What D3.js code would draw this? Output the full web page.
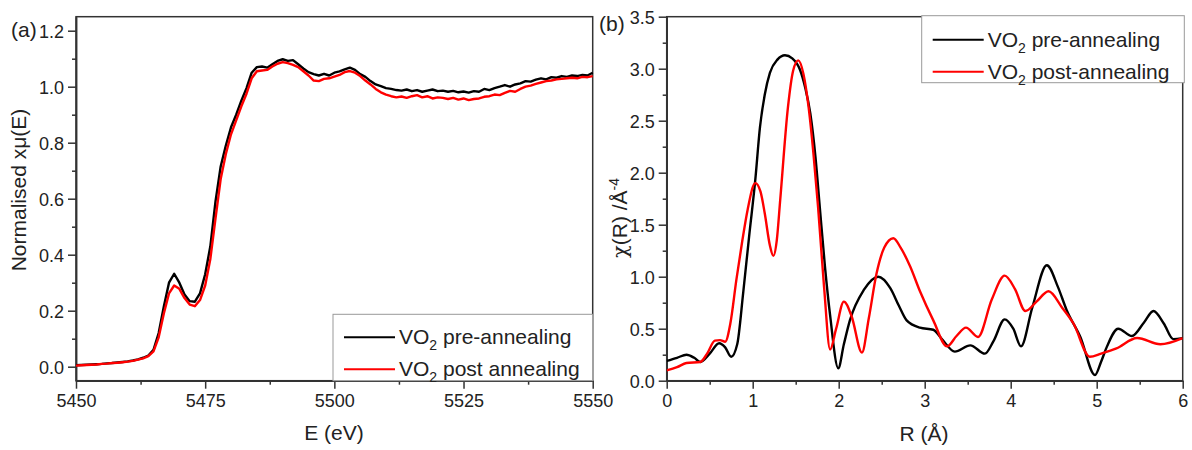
<!DOCTYPE html>
<html>
<head>
<meta charset="utf-8">
<script src="https://cdnjs.cloudflare.com/ajax/libs/d3/7.8.5/d3.min.js"></script>
<style>
  body { margin: 0; background: #fff; }
  text { font-family: "Liberation Sans", Arial, sans-serif; fill: #222; }
  .domain { stroke: #333; stroke-width: 1.5; }
  .tick line { stroke: #333; stroke-width: 1.5; }
</style>
</head>
<body>
<div id="container"></div>
<script>
// (a) XANES, 1 eV steps from 5450 to 5550
const energy = d3.range(5450, 5551, 1);
const muPre = [
  0.005,0.006,0.007,0.008,0.009,0.010,0.012,0.013,0.015,0.017,
  0.019,0.022,0.026,0.032,0.040,0.060,0.120,0.215,0.300,0.332,
  0.300,0.258,0.234,0.232,0.262,0.330,0.430,0.590,0.715,0.790,
  0.855,0.900,0.950,0.995,1.050,1.070,1.072,1.068,1.080,1.092,
  1.098,1.092,1.095,1.080,1.065,1.052,1.045,1.040,1.046,1.040,
  1.050,1.055,1.062,1.068,1.060,1.045,1.035,1.020,1.008,1.002,
  0.995,0.992,0.988,0.986,0.990,0.984,0.988,0.982,0.986,0.990,
  0.984,0.986,0.982,0.985,0.980,0.983,0.979,0.984,0.982,0.992,
  0.988,0.995,1.000,1.006,1.000,1.008,1.012,1.020,1.018,1.025,
  1.030,1.026,1.034,1.032,1.038,1.035,1.040,1.038,1.042,1.040,
  1.050];
const muPost = [
  0.004,0.005,0.006,0.007,0.008,0.010,0.011,0.013,0.014,0.016,
  0.018,0.021,0.025,0.030,0.038,0.055,0.105,0.190,0.262,0.290,
  0.278,0.245,0.222,0.216,0.238,0.290,0.385,0.530,0.670,0.760,
  0.830,0.880,0.930,0.975,1.030,1.055,1.058,1.060,1.072,1.082,
  1.088,1.084,1.078,1.070,1.055,1.040,1.022,1.020,1.028,1.030,
  1.036,1.042,1.052,1.056,1.050,1.038,1.022,1.008,0.992,0.980,
  0.972,0.966,0.962,0.965,0.960,0.966,0.970,0.962,0.966,0.958,
  0.962,0.960,0.956,0.960,0.954,0.958,0.952,0.956,0.958,0.964,
  0.966,0.972,0.970,0.978,0.985,0.982,0.992,1.000,1.004,1.010,
  1.015,1.020,1.022,1.026,1.028,1.030,1.032,1.030,1.035,1.034,
  1.038];

// (b) Fourier transform magnitude
const rPre = [0,0.12,0.23,0.32,0.39,0.5,0.61,0.68,0.75,0.82,0.89,0.96,1.03,1.085,1.14,1.2,1.29,1.375,1.46,1.55,1.61,1.67,1.73,1.78,1.84,1.9,1.995,2.06,2.13,2.29,2.46,2.6,2.7,2.79,2.945,3.1,3.2,3.35,3.53,3.7,3.8,3.93,4.03,4.12,4.25,4.42,4.55,4.65,4.81,4.98,5.05,5.12,5.25,5.41,5.55,5.66,5.78,5.89,6.0];
const chiPre = [0.19,0.22,0.25,0.22,0.18,0.26,0.36,0.32,0.23,0.35,0.85,1.40,1.93,2.44,2.75,2.96,3.09,3.13,3.10,2.99,2.82,2.57,2.15,1.67,1.10,0.63,0.12,0.35,0.58,0.87,1.00,0.89,0.72,0.58,0.51,0.49,0.40,0.28,0.34,0.26,0.38,0.59,0.50,0.33,0.70,1.11,0.90,0.68,0.42,0.055,0.18,0.33,0.50,0.43,0.56,0.67,0.55,0.40,0.41];
const rPost = [0,0.12,0.23,0.39,0.47,0.56,0.62,0.68,0.74,0.81,0.88,0.94,1.03,1.09,1.14,1.2,1.24,1.28,1.32,1.41,1.47,1.53,1.59,1.65,1.71,1.76,1.83,1.9,1.97,2.06,2.15,2.27,2.35,2.44,2.53,2.635,2.72,2.83,2.945,3.1,3.26,3.37,3.48,3.62,3.78,3.93,4.05,4.17,4.3,4.44,4.6,4.73,4.92,5.05,5.23,5.47,5.74,6.0];
const chiPost = [0.10,0.13,0.17,0.18,0.26,0.385,0.39,0.375,0.55,0.97,1.35,1.64,1.90,1.82,1.61,1.30,1.20,1.35,1.74,2.63,2.98,3.08,2.95,2.63,2.15,1.67,0.90,0.30,0.50,0.76,0.62,0.27,0.60,1.03,1.28,1.37,1.28,1.10,0.86,0.58,0.33,0.43,0.51,0.42,0.78,1.01,0.88,0.67,0.76,0.86,0.70,0.55,0.23,0.26,0.31,0.41,0.35,0.41];

const xTicksA = [5450, 5475, 5500, 5525, 5550];
const yTicksA = [0.0, 0.2, 0.4, 0.6, 0.8, 1.0, 1.2];
const xTicksB = [0, 1, 2, 3, 4, 5, 6];
const yTicksB = [0.0, 0.5, 1.0, 1.5, 2.0, 2.5, 3.0, 3.5];
const legendA = ["pre-annealing", "post annealing"];
const legendB = ["pre-annealing", "post-annealing"];
const colors = ["#000000", "#ff0000"];

const w = 1192, h = 450;
const svg = d3.select("#container").append("svg")
  .attr("width", w).attr("height", h);

function drawAxes(g, xScale, yScale, xMajor, xMinor, yMajor, yMinor, fmtX, fmtY) {
  const [x0, x1] = xScale.range();
  const [y0, y1] = yScale.range();
  // frame
  g.append("rect")
   .attr("x", x0).attr("y", y1)
   .attr("width", x1 - x0).attr("height", y0 - y1)
   .attr("fill", "none").attr("stroke", "#333").attr("stroke-width", 1.5);

  g.append("g").attr("transform", "translate(0," + y0 + ")")
   .call(d3.axisBottom(xScale).tickValues(xMinor).tickSize(4).tickFormat("").tickSizeOuter(0));
  g.append("g").attr("transform", "translate(" + x0 + ",0)")
   .call(d3.axisLeft(yScale).tickValues(yMinor).tickSize(4).tickFormat("").tickSizeOuter(0));

  g.append("g").attr("transform", "translate(0," + y0 + ")")
   .call(d3.axisBottom(xScale).tickValues(xMajor).tickSize(8).tickPadding(6).tickFormat(fmtX).tickSizeOuter(0))
   .selectAll("text").style("font-size", "18px");
  g.append("g").attr("transform", "translate(" + x0 + ",0)")
   .call(d3.axisLeft(yScale).tickValues(yMajor).tickSize(8).tickPadding(4).tickFormat(fmtY).tickSizeOuter(0))
   .selectAll("text").style("font-size", "18px").attr("dy", "0.36em");
  g.selectAll(".domain").attr("stroke", "#333").attr("stroke-width", 1.5);
}

function drawLegend(g, x, y, bw, bh, labels, rowY) {
  g.append("rect")
   .attr("x", x).attr("y", y).attr("width", bw).attr("height", bh)
   .attr("fill", "#fff").attr("stroke", "#999").attr("stroke-width", 1);
  labels.forEach((lab, i) => {
    g.append("line")
     .attr("x1", x + 11).attr("x2", x + 62)
     .attr("y1", y + rowY[i]).attr("y2", y + rowY[i])
     .attr("stroke", colors[i]).attr("stroke-width", 2);
    const t = g.append("text")
     .attr("x", x + 66).attr("y", y + rowY[i] + 7)
     .style("font-size", "21px");
    t.append("tspan").text("VO");
    t.append("tspan").attr("dy", 6).style("font-size", "14px").text("2");
    t.append("tspan").attr("dy", -6).text(" " + lab);
  });
}

// ---------- panel (a)
const ga = svg.append("g");
const xA = d3.scaleLinear().domain([5450, 5550]).range([76, 592.7]);
const yA = d3.scaleLinear().domain([-0.05, 1.25]).range([380.7, 16.7]);
drawAxes(ga, xA, yA, xTicksA, d3.range(5462.5, 5550, 25),
  yTicksA, d3.range(0.1, 1.25, 0.2), d3.format("d"), d3.format(".1f"));

const lineA = (ys) => d3.line().x((d, i) => xA(energy[i])).y((d) => yA(d))(ys);
[muPre, muPost].forEach((s, i) => {
  ga.append("path").attr("d", lineA(s))
    .attr("fill", "none").attr("stroke", colors[i]).attr("stroke-width", 2.4)
    .attr("stroke-linejoin", "round");
});

drawLegend(ga, 333, 314.3, 259.7, 66.4, legendA, [23, 55]);

ga.append("text").attr("x", 11).attr("y", 37).style("font-size", "21px").text("(a)");
ga.append("text")
  .attr("transform", "translate(26,190) rotate(-90)")
  .attr("text-anchor", "middle").style("font-size", "21px")
  .text("Normalised xμ(E)");
ga.append("text").attr("x", 334).attr("y", 440)
  .attr("text-anchor", "middle").style("font-size", "21px").text("E (eV)");

// ---------- panel (b)
const gb = svg.append("g");
const xB = d3.scaleLinear().domain([0, 6]).range([666.7, 1182.7]);
const yB = d3.scaleLinear().domain([0, 3.5]).range([380.7, 16.7]);
drawAxes(gb, xB, yB, xTicksB, d3.range(0.5, 6, 1),
  yTicksB, d3.range(0.25, 3.5, 0.5), d3.format("d"), d3.format(".1f"));

gb.append("clipPath").attr("id", "clipB")
  .append("rect").attr("x", 666.7).attr("y", 16.7).attr("width", 516).attr("height", 364);

[[rPre, chiPre], [rPost, chiPost]].forEach(([rs, cs], i) => {
  const path = d3.line().curve(d3.curveMonotoneX)
    .x((d) => xB(d[0])).y((d) => yB(d[1]))(rs.map((r, j) => [r, cs[j]]));
  gb.append("path").attr("d", path).attr("clip-path", "url(#clipB)")
    .attr("fill", "none").attr("stroke", colors[i]).attr("stroke-width", 2.4);
});

drawLegend(gb, 921.7, 15.7, 262.6, 67, legendB, [24, 56]);

gb.append("text").attr("x", 599).attr("y", 31).style("font-size", "21px").text("(b)");
const yt = gb.append("text")
  .attr("transform", "translate(627,218) rotate(-90)")
  .attr("text-anchor", "middle").style("font-size", "21px");
yt.append("tspan").style("font-family", "'DejaVu Serif', serif").text("χ");
yt.append("tspan").text("(R) /Å");
yt.append("tspan").attr("dy", -8).style("font-size", "14px").text("-4");
gb.append("text").attr("x", 924).attr("y", 441)
  .attr("text-anchor", "middle").style("font-size", "21px").text("R (Å)");
</script>
</body>
</html>
